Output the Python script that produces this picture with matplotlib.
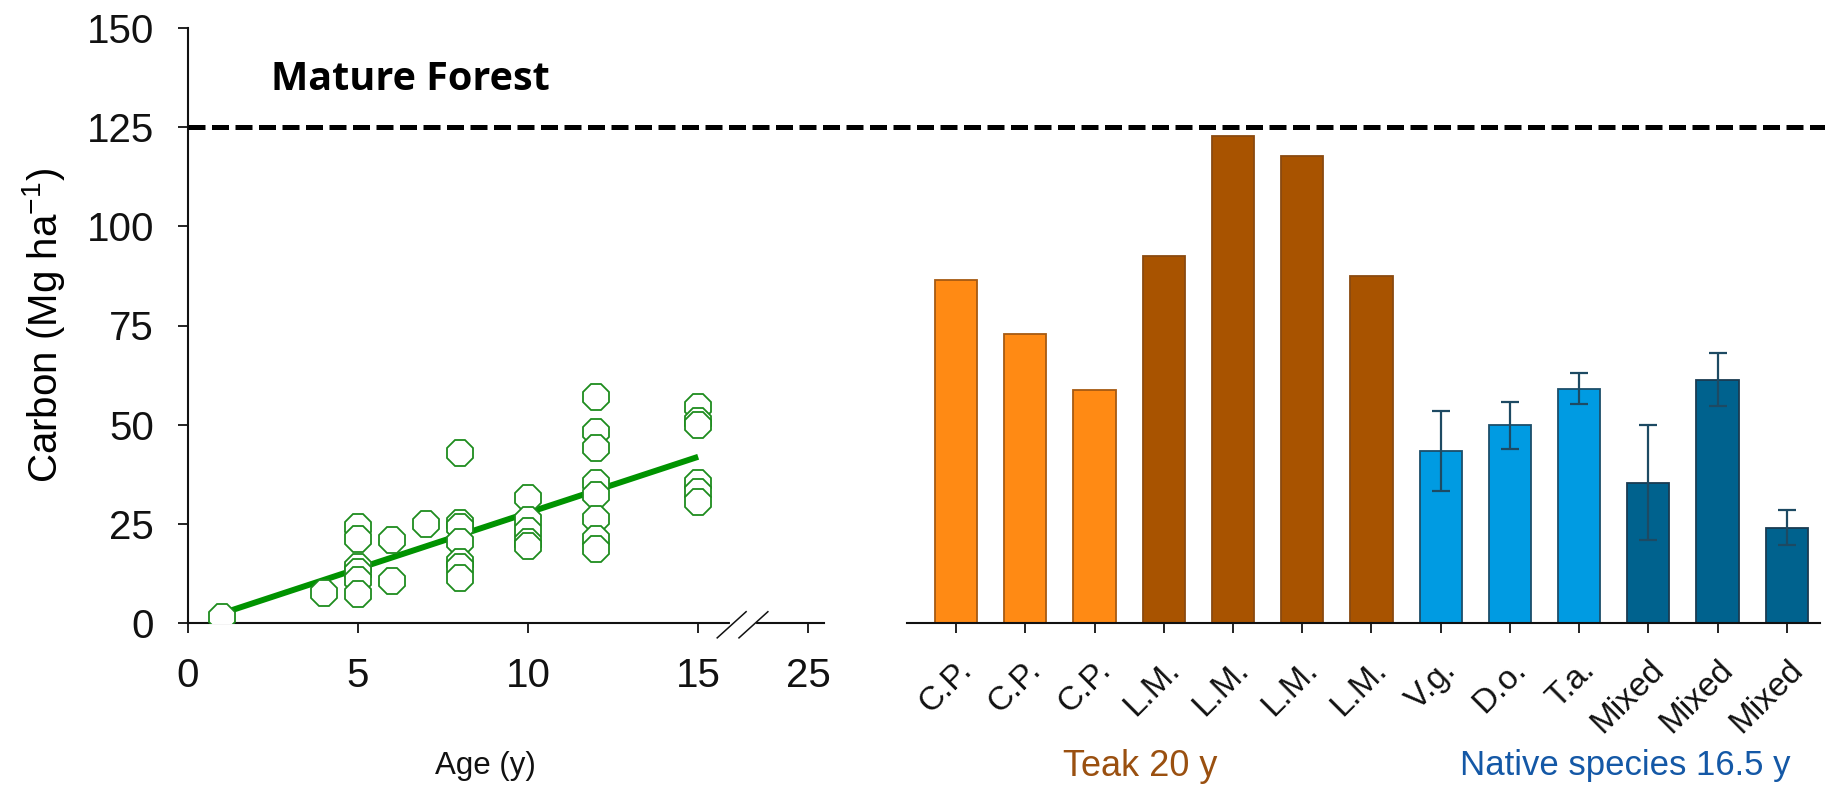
import matplotlib
matplotlib.use("Agg")
import matplotlib.pyplot as plt
from matplotlib import transforms
from matplotlib.lines import Line2D
import numpy as np

# ---- Carbon vs plantation age (scatter + linear fit) ----
age = [1, 4,
       5, 5, 5, 5, 5, 5,
       6, 6,
       7,
       8, 8, 8, 8, 8, 8, 8,
       10, 10, 10, 10, 10,
       12, 12, 12, 12, 12, 12, 12, 12,
       15, 15, 15, 15, 15, 15]
carbon = [1.5, 7.5,
          24.3, 21.1, 14.2, 12.9, 10.8, 7.3,
          20.8, 10.6,
          24.9,
          42.8, 25.3, 24.3, 20.3, 15.5, 14.0, 11.3,
          31.6, 26.0, 23.1, 20.5, 19.4,
          57.0, 48.1, 44.2, 35.3, 32.3, 26.3, 21.3, 18.6,
          54.5, 50.9, 49.9, 35.2, 33.1, 30.6]
fit_slope = 2.82
fit_intercept = -0.4
fit_range = [1, 15]

age_tick_labels = ["0", "5", "10", "15", "25"]
age_tick_pos = [0, 5, 10, 15, 18.24]   # 25 sits after the axis break

# ---- Carbon by plantation (bars) ----
bar_labels = ["C.P.", "C.P.", "C.P.", "L.M.", "L.M.", "L.M.", "L.M.",
              "V.g.", "D.o.", "T.a.", "Mixed", "Mixed", "Mixed"]
bar_values = [86.4, 72.9, 58.7, 92.4, 122.8, 117.8, 87.4,
              43.4, 49.8, 59.0, 35.4, 61.3, 24.0]
bar_errors = [None, None, None, None, None, None, None,
              10.1, 6.0, 3.9, 14.5, 6.7, 4.4]
bar_groups = ["cp", "cp", "cp", "lm", "lm", "lm", "lm",
              "native", "native", "native", "mixed", "mixed", "mixed"]

mature_forest = 125

group_fill = {"cp": "#FF8A14", "lm": "#A85300", "native": "#009BE2", "mixed": "#00628E"}
group_edge = {"cp": "#A65A12", "lm": "#8A4A10", "native": "#1C4E6A", "mixed": "#1A3B52"}
err_color = "#1D4A63"

plt.rcParams["font.family"] = ["Liberation Sans", "DejaVu Sans"]
plt.rcParams["mathtext.default"] = "regular"

W, H = 1825, 789
fig = plt.figure(figsize=(W / 100, H / 100), dpi=100)

def px_box(x0, x1, ytop, ybot):
    return [x0 / W, (H - ybot) / H, (x1 - x0) / W, (ybot - ytop) / H]

ax1 = fig.add_axes(px_box(188, 824, 28, 623))
ax2 = fig.add_axes(px_box(907, 1820, 28, 623))

tick_kw = dict(direction="out", length=7.5, width=1.3, colors="#111111",
               labelsize=29, pad=17)

# left panel
ax1.plot(fit_range, [fit_intercept + fit_slope * x for x in fit_range],
         color="#009300", lw=4.3, solid_capstyle="butt", zorder=2)
ax1.plot(age, carbon, linestyle="none", marker="8", ms=20,
         mfc="white", mec="#1E8C1E", mew=1.3, zorder=3)
ax1.set_xlim(0, 18.7)
ax1.set_ylim(0, 150)
ax1.set_yticks([0, 25, 50, 75, 100, 125, 150])
ax1.set_xticks(age_tick_pos)
ax1.set_xticklabels(age_tick_labels)
ax1.tick_params(**tick_kw)
for s in ("top", "right"):
    ax1.spines[s].set_visible(False)
for s in ("left", "bottom"):
    ax1.spines[s].set_linewidth(1.5)
    ax1.spines[s].set_color("#111111")
ax1.set_ylabel("Carbon (Mg ha$^{-1}$)", fontsize=29, labelpad=14)

# axis break on the age axis
brk = transforms.blended_transform_factory(ax1.transData, ax1.transAxes)
ax1.add_line(Line2D([16.0, 16.63], [0, 0], transform=brk, color="white",
                    lw=3, clip_on=False, zorder=5))
for x0 in (15.56, 16.2):
    ax1.add_line(Line2D([x0, x0 + 0.85], [-0.025, 0.019], transform=brk,
                        color="#111111", lw=1.1, clip_on=False, zorder=6))

ax1.text(2.44, 134.4, "Mature Forest", family=["Open Sans", "DejaVu Sans"],
         fontweight="bold", fontsize=28.5, va="baseline", ha="left")

# right panel
pos = np.arange(len(bar_values))
ax2.bar(pos, bar_values, width=0.61,
        color=[group_fill[g] for g in bar_groups],
        edgecolor=[group_edge[g] for g in bar_groups], linewidth=1.3, zorder=2)
ei = [i for i, e in enumerate(bar_errors) if e is not None]
ax2.errorbar([pos[i] for i in ei], [bar_values[i] for i in ei],
             yerr=[bar_errors[i] for i in ei], fmt="none", ecolor=err_color,
             elinewidth=1.6, capsize=6.5, capthick=1.6, zorder=3)
ax2.set_xlim(-0.71, 12.48)
ax2.set_ylim(0, 150)
ax2.set_xticks(pos)
ax2.set_xticklabels(bar_labels, rotation=45, ha="right", rotation_mode="anchor")
ax2.set_yticks([])
ax2.tick_params(axis="x", direction="out", length=7.5, width=1.3,
                colors="#111111", labelsize=24, pad=15)
for s in ("top", "right", "left"):
    ax2.spines[s].set_visible(False)
ax2.spines["bottom"].set_linewidth(1.5)
ax2.spines["bottom"].set_color("#111111")

# mature-forest reference line across both panels
ref = transforms.blended_transform_factory(fig.transFigure, ax1.transData)
fig.add_artist(Line2D([188 / W, 1.0], [mature_forest, mature_forest],
                      transform=ref, color="black", lw=3.6,
                      dashes=(3.4, 1.3), zorder=10))

# axis titles
fig.text(485 / W, (H - 766) / H, "Age (y)", fontsize=22.5, ha="center",
         va="center", color="#111111")
fig.text(1140 / W, (H - 766) / H, "Teak 20 y", fontsize=26, ha="center",
         va="center", color="#9A5010")
fig.text(1625 / W, (H - 766) / H, "Native species 16.5 y", fontsize=25,
         ha="center", va="center", color="#1458A6")

fig.savefig("out.png", dpi=100)
